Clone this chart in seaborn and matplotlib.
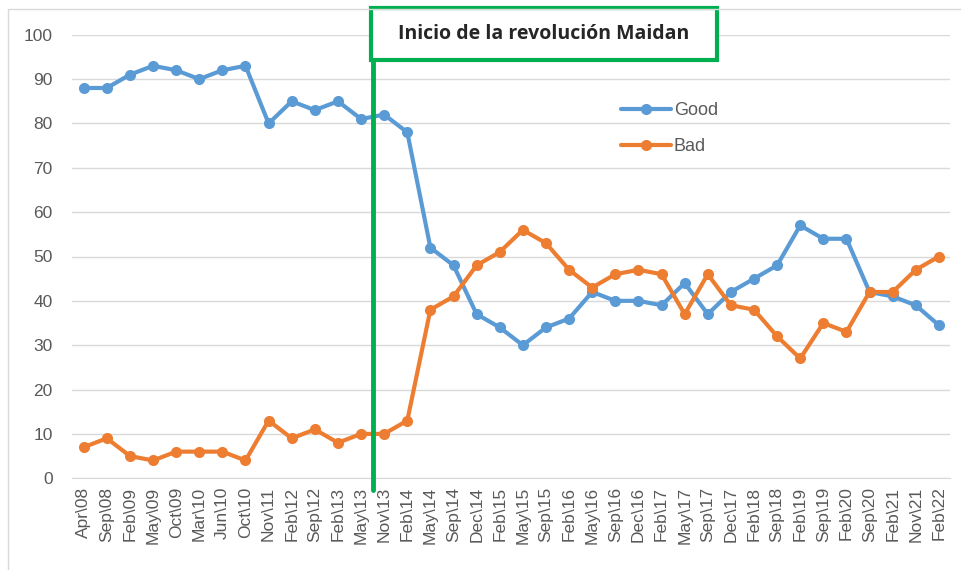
import numpy as np
import pandas as pd
import matplotlib
matplotlib.use('Agg')
import matplotlib.pyplot as plt
from matplotlib.patches import Rectangle
import seaborn as sns

# Survey waves (x axis) and share of answers per wave
periods = ['Apr\\08', 'Sep\\08', 'Feb\\09', 'May\\09', 'Oct\\09', 'Mar\\10', 'Jun\\10', 'Oct\\10',
           'Nov\\11', 'Feb\\12', 'Sep\\12', 'Feb\\13', 'May\\13', 'Nov\\13', 'Feb\\14', 'May\\14',
           'Sep\\14', 'Dec\\14', 'Feb\\15', 'May\\15', 'Sep\\15', 'Feb\\16', 'May\\16', 'Sep\\16',
           'Dec\\16', 'Feb\\17', 'May\\17', 'Sep\\17', 'Dec\\17', 'Feb\\18', 'Sep\\18', 'Feb\\19',
           'Sep\\19', 'Feb\\20', 'Sep\\20', 'Feb\\21', 'Nov\\21', 'Feb\\22']
good = [88, 88, 91, 93, 92, 90, 92, 93, 80, 85, 83, 85, 81, 82, 78, 52, 48, 37, 34, 30,
        34, 36, 42, 40, 40, 39, 44, 37, 42, 45, 48, 57, 54, 54, 42, 41, 39, 34.5]
bad = [7, 9, 5, 4, 6, 6, 6, 4, 13, 9, 11, 8, 10, 10, 13, 38, 41, 48, 51, 56,
       53, 47, 43, 46, 47, 46, 37, 46, 39, 38, 32, 27, 35, 33, 42, 42, 47, 50]
event_label = 'Inicio de la revolución Maidan'
event_pos = 12.5  # between May\13 and Nov\13

df = pd.DataFrame({'pos': np.arange(len(periods)), 'Good': good, 'Bad': bad})
df_long = df.melt(id_vars='pos', var_name='serie', value_name='valor')

sns.set_style('white')
plt.rcParams['font.family'] = ['Liberation Sans', 'DejaVu Sans']

fig = plt.figure(figsize=(9.62, 5.7), dpi=100)
ax = fig.add_axes([0.075, 0.161, 0.913, 0.778])

sns.lineplot(data=df_long, x='pos', y='valor', hue='serie',
             palette={'Good': '#5B9BD5', 'Bad': '#ED7D31'},
             marker='o', markersize=8, markeredgewidth=0, linewidth=3, ax=ax)

ax.set_xlim(-0.5, len(periods) - 0.5)
ax.set_ylim(0, 100)
ax.set_yticks(range(0, 101, 10))
ax.set_xticks(df['pos'])
ax.set_xticklabels(periods, rotation=90)
ax.set_xlabel('')
ax.set_ylabel('')
ax.tick_params(axis='both', colors='#595959', labelsize=12.5, length=0)
ax.tick_params(axis='y', pad=14)
ax.tick_params(axis='x', pad=6)
ax.grid(axis='y', color='#d9d9d9', linewidth=1)
for s in ['top', 'right', 'left']:
    ax.spines[s].set_visible(False)
ax.spines['bottom'].set_color('#d9d9d9')

# green marker line for the start of Maidan, with its label box
ax.plot([event_pos, event_pos], [-2.7, 94.5], color='#00B050', linewidth=3.5,
        clip_on=False, zorder=5)
box_x0, box_x1 = event_pos - 0.08, 27.4
box_y0, box_y1 = 94.4, 106.1
ax.add_patch(Rectangle((box_x0, box_y0), box_x1 - box_x0, box_y1 - box_y0,
                       fc='white', ec='#00B050', lw=3, clip_on=False, zorder=6))
ax.text((box_x0 + box_x1) / 2, (box_y0 + box_y1) / 2, event_label, ha='center', va='center',
        fontsize=14, fontweight='bold', color='#262626', family=['Open Sans', 'DejaVu Sans'],
        clip_on=False, zorder=7)

leg = ax.legend(loc='upper left', bbox_to_anchor=(0.606, 0.885), frameon=False,
                fontsize=13, labelspacing=1.05, handlelength=2.8, handletextpad=0.15)
for t in leg.get_texts():
    t.set_color('#595959')

# faint chart border
fig.patches.append(Rectangle((8 / 962, -0.05), 1.1, 1.05 - 9 / 570,
                             transform=fig.transFigure, fill=False,
                             ec='#d9d9d9', lw=1))

fig.savefig('out.png', dpi=100)
